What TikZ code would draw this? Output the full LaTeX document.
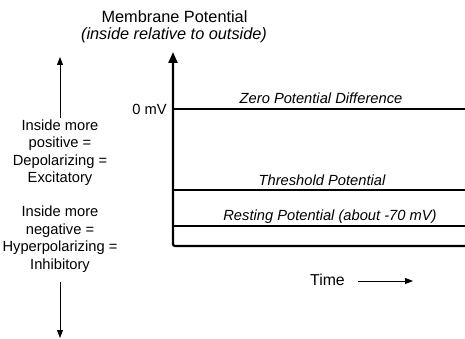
\documentclass[tikz,border=0pt]{standalone}
\usepackage{fontspec}
\setmainfont{Liberation Sans}
\usetikzlibrary{arrows.meta}
\tikzset{
  lbl/.style={font=\fontsize{14.7}{17.5}\selectfont, inner sep=0pt, anchor=base},
  ttl/.style={font=\fontsize{16.3}{19}\selectfont, inner sep=0pt, anchor=base},
  itl/.style={lbl, font=\fontsize{14.7}{17.5}\selectfont\itshape},
  level/.style={line width=1.8pt},
  thin arrow/.style={line width=0.9pt, -{Triangle[width=6pt,length=8pt]}},
}
\begin{document}
\begin{tikzpicture}[x=1pt,y=-1pt]
\useasboundingbox (0,0) rectangle (465,339);
% heading
\node[ttl] (title) at (174.5,23) {Membrane Potential};
\node[ttl, font=\fontsize{16.3}{19}\selectfont\itshape] (sub) at (174,40) {(inside relative to outside)};
% axis
\coordinate (top) at (173,52);
\coordinate (origin) at (173,246);
\coordinate (end) at (466,246);
\draw[line width=2.2pt, {Triangle[width=9pt,length=11pt]}-, rounded corners=2pt] (top) -- (origin) -- (end);
% levels
\foreach \y/\nm in {109/zero, 190/thr, 226/rest} {
  \coordinate (\nm-l) at (173,\y);
  \coordinate (\nm-r) at (466,\y);
  \draw[level] (\nm-l) -- (\nm-r);
}
\node[lbl, anchor=base east] (zmv) at (167,115) {0 mV};
\node[itl] (zerolbl) at (321,104) {Zero Potential Difference};
\node[itl] (thrlbl) at (322,185) {Threshold Potential};
\node[itl] (restlbl) at (330,220) {Resting Potential (about -70 mV)};
% left side
\node[lbl, anchor=center, align=center] (pos) at (60,152.5) {Inside more\\positive =\\Depolarizing =\\Excitatory};
\node[lbl, anchor=center, align=center] (neg) at (60,239.4) {Inside more\\negative =\\Hyperpolarizing =\\Inhibitory};
\coordinate (upfoot) at (60,118);
\coordinate (uptip) at (60,57);
\draw[thin arrow] (upfoot) -- (uptip);
\coordinate (dnfoot) at (60,282);
\coordinate (dntip) at (60,338);
\draw[thin arrow] (dnfoot) -- (dntip);
% time
\node[ttl, font=\fontsize{15.8}{19}\selectfont] (time) at (327.5,285) {Time};
\coordinate (timefoot) at (358,281);
\coordinate (timetip) at (413,281);
\draw[thin arrow] (timefoot) -- (timetip);
\end{tikzpicture}
\end{document}
